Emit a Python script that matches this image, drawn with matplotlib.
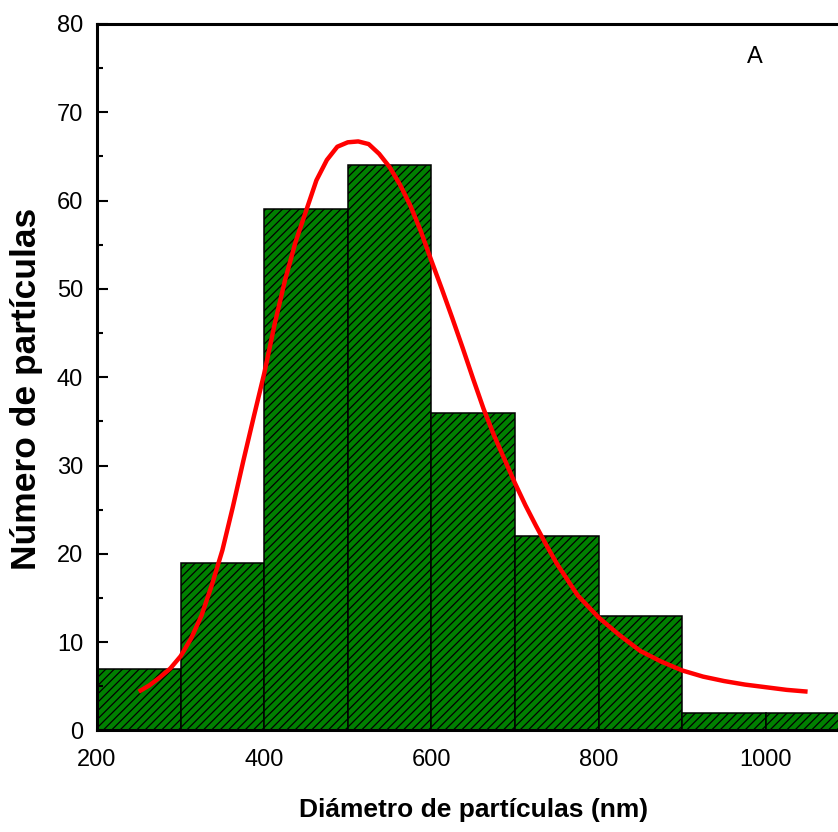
import matplotlib
matplotlib.use('Agg')
import matplotlib.pyplot as plt
from matplotlib.ticker import MultipleLocator

# histograma: bordes izquierdos de cada clase (nm) y conteos
bin_left = [200, 300, 400, 500, 600, 700, 800, 900, 1000]
bin_width = 100
counts = [7, 19, 59, 64, 36, 22, 13, 2, 2]

# curva de ajuste
fit_x = [250, 262.5, 275, 287.5, 300, 312.5, 325, 337.5, 350, 362.5, 375, 387.5,
         400, 412.5, 425, 437.5, 450, 462.5, 475, 487.5, 500, 512.5, 525, 537.5,
         550, 562.5, 575, 587.5, 600, 612.5, 625, 637.5, 650, 662.5, 675, 687.5,
         700, 712.5, 725, 737.5, 750, 775, 800, 825, 850, 875, 900, 925, 950,
         975, 1000, 1025, 1050]
fit_y = [4.4, 5.1, 6.0, 7.0, 8.4, 10.4, 13.0, 16.5, 20.4, 25.3, 30.5, 35.5,
         40.4, 46.0, 51.0, 55.3, 58.8, 62.3, 64.6, 66.1, 66.6, 66.7, 66.4, 65.3,
         63.8, 61.8, 59.4, 56.5, 53.2, 50.0, 46.7, 43.3, 39.8, 36.4, 33.4, 30.7,
         28.0, 25.5, 23.2, 21.0, 18.9, 15.3, 12.8, 10.8, 9.0, 7.8, 6.8, 6.1, 5.6,
         5.2, 4.9, 4.6, 4.4]

plt.rcParams['hatch.linewidth'] = 0.9
plt.rcParams['font.family'] = ['Liberation Sans', 'DejaVu Sans']

fig = plt.figure(figsize=(8.38, 8.32), dpi=100)
ax = fig.add_axes([0.1157, 0.122, 0.8979, 0.8492])

ax.bar(bin_left, counts, width=bin_width, align='edge', color='#008000',
       edgecolor='black', linewidth=1.1, hatch='////', zorder=1)
ax.plot(fit_x, fit_y, color='red', linewidth=3.2, zorder=3,
        solid_joinstyle='round', solid_capstyle='butt')

ax.set_xlim(200, 1100)
ax.set_ylim(0, 80)
ax.xaxis.set_major_locator(MultipleLocator(200))
ax.xaxis.set_minor_locator(MultipleLocator(100))
ax.yaxis.set_major_locator(MultipleLocator(10))
ax.yaxis.set_minor_locator(MultipleLocator(5))

for s in ['left', 'top', 'bottom']:
    ax.spines[s].set_linewidth(2.2)
ax.spines['right'].set_visible(False)

ax.tick_params(which='major', direction='in', length=8, width=1.5, pad=10,
               labelsize=17)
ax.tick_params(which='minor', direction='in', length=4, width=1.5)
ax.tick_params(axis='x', which='both', length=0, pad=13)

ax.set_xlabel('Diámetro de partículas (nm)', fontsize=19,
              fontweight='bold', labelpad=20)
ax.set_ylabel('Número de partículas', fontsize=25.5, fontweight='bold')
ax.yaxis.set_label_coords(-0.072, 0.483)

ax.text(987, 76.3, 'A', fontsize=17, ha='center', va='center')

fig.savefig('out.png', dpi=100)
